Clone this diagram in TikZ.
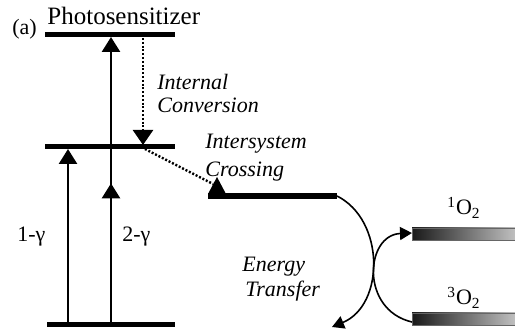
\documentclass[tikz,border=0pt]{standalone}
\usepackage{fontspec}
\setmainfont{Liberation Serif}
\usetikzlibrary{
  arrows.meta,
  decorations.markings
}

\begin{document}
\begin{tikzpicture}[
  x=0.5pt, y=-0.5pt,
  font=\fontsize{11}{13}\selectfont,
  level/.style={
    line width=2.5pt
  },
  excite/.style={
    line width=1.3pt,
    -{Triangle[length=7.5pt,width=9pt]}
  },
  midtip/.style={
    postaction={decorate},
    decoration={markings,
      mark=at position #1 with {\arrow{Triangle[length=7.5pt,width=9pt]}}}
  },
  dotline/.style={
    line width=1.2pt,
    dash pattern=on 1pt off 0.9pt
  },
  transfer/.style={
    line width=0.8pt,
    -{Triangle[length=6pt,width=6.5pt]}
  },
  o2bar/.style={
    left color=black!90,
    right color=black!25,
    draw=black!60,
    line width=0.3pt
  },
  lbl/.style={
    anchor=base west,
    inner sep=0pt
  },
  itlbl/.style={
    lbl,
    font=\fontsize{11}{13}\selectfont\itshape
  }
]

\useasboundingbox (0,0) rectangle (515,331);

% Photosensitizer levels
\coordinate (s2w) at (45,35);  \coordinate (s2e) at (175,35);
\coordinate (s1w) at (45,147); \coordinate (s1e) at (175,147);
\coordinate (s0w) at (47,325); \coordinate (s0e) at (175,325);
\coordinate (t1w) at (208,196); \coordinate (t1e) at (337,196);

\draw[level] (s2w) -- (s2e);
\draw[level] (s1w) -- (s1e);
\draw[level] (s0w) -- (s0e);
\draw[line width=3pt] (t1w) -- (t1e);

% Oxygen levels
\filldraw[o2bar] (412,228) rectangle (515,240);
\filldraw[o2bar] (412,313) rectangle (515,325);
\coordinate (o1w) at (412,233);
\coordinate (o3w) at (412,322);

% Excitation (1-gamma, 2-gamma)
\coordinate (g1b) at (68,324);  \coordinate (g1t) at (68,149);
\coordinate (g2b) at (111,324); \coordinate (g2t) at (111,37);
\draw[excite] (g1b) -- (g1t);
\draw[excite, midtip=0.49] (g2b) -- (g2t);

% Internal conversion
\coordinate (ic0) at (143,38); \coordinate (ic1) at (143,145);
\draw[dotline, -{Triangle[length=7.5pt,width=10pt]}] (ic0) -- (ic1);

% Intersystem crossing
\coordinate (isc0) at (145,149); \coordinate (isc1) at (213,184);
\draw[dotline] (isc0) -- (isc1);
\fill (208,194) -- (217,177) -- (226,194) -- cycle;

% Energy transfer
\coordinate (et1) at (332,327);
\draw[transfer] (t1e) .. controls (385,220) and (385,305) .. (et1);
\draw[transfer] (o3w) .. controls (360,310) and (365,235) .. (o1w);

% Labels
\node[lbl, font=\fontsize{12.5}{14}\selectfont] (ps) at (47,25) {Photosensitizer};
\node[lbl] (tag) at (12,35) {(a)};
\node[itlbl] (ic) at (157,90) {Internal};
\node[itlbl] (ic2) at (157,113) {Conversion};
\node[itlbl] (isc) at (205,149) {Intersystem};
\node[itlbl] (isc2) at (205,177) {Crossing};
\node[itlbl] (en) at (242,272) {Energy};
\node[itlbl] (en2) at (245,297) {Transfer};
\node[lbl] (g1) at (17,242) {1-γ};
\node[lbl] (g2) at (122,242) {2-γ};
\node[lbl] (o1) at (447,215) {\textsuperscript{1}O\textsubscript{2}};
\node[lbl] (o3) at (447,305) {\textsuperscript{3}O\textsubscript{2}};

\end{tikzpicture}
\end{document}
